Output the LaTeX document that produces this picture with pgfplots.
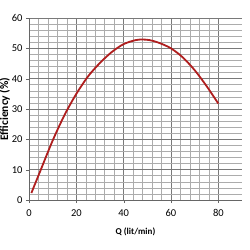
\documentclass[border=0pt]{standalone}
\usepackage{pgfplots}
\pgfplotsset{compat=1.18}
\usepackage{fontspec}
\setmainfont{Carlito}
\definecolor{curve}{RGB}{175,30,30}
\begin{document}
\begin{tikzpicture}
\begin{axis}[
  scale only axis,
  width=213pt, height=182pt,
  xmin=0, xmax=90, ymin=0, ymax=60,
  xtick={0,20,40,60,80}, ytick={0,10,20,30,40,50,60},
  minor x tick num=4, minor y tick num=4,
  grid=both,
  major grid style={draw=gray!95!black, line width=0.7pt},
  minor grid style={draw=gray!65, line width=0.55pt},
  axis lines*=left,
  axis line style={draw=gray!80!black, line width=0.8pt},
  tick align=outside, major tick length=3pt, minor tick length=0pt,
  tick style={draw=gray!80!black},
  /pgf/number format/assume math mode=true,
  ticklabel style={font=\fontsize{10.5}{12}\selectfont},
  xticklabel style={yshift=-3pt},
  xlabel={\textbf{Q (lit/min)}}, ylabel={\textbf{Efficiency (\%)}},
  xlabel style={font=\fontsize{9}{11}\selectfont, yshift=-4pt},
  ylabel style={font=\fontsize{11.5}{13}\selectfont, yshift=-5pt},
]
\addplot[curve, line width=1.8pt, smooth] coordinates {
(1,2.3) (5,10) (10,19.6) (15,28) (20,35) (25,40.8) (30,45.2) (35,48.8) (40,51.4) (45,52.7) (48,52.9) (51,52.7) (55,51.8) (60,50) (65,47) (70,42.8) (75,37.6) (80,31.8)
};
\end{axis}
\pgfresetboundingbox
\path (-29pt,-50pt) rectangle (221pt,200pt);
\end{tikzpicture}
\end{document}
